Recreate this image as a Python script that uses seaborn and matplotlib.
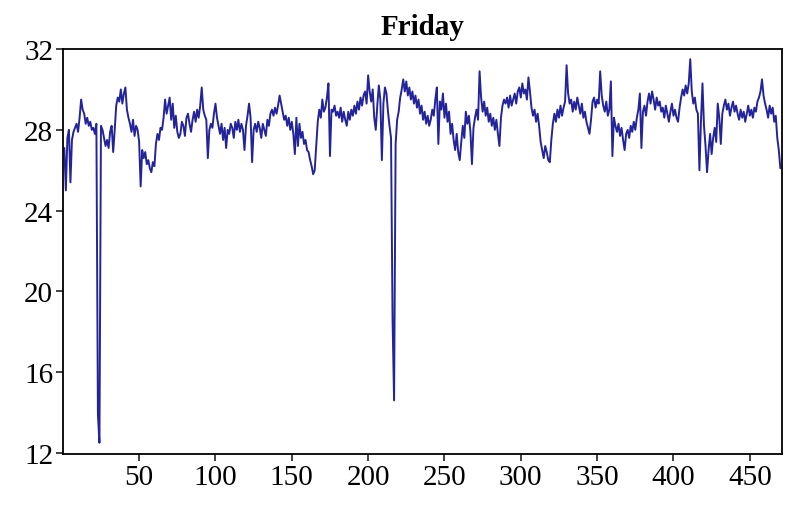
import numpy as np
import pandas as pd
import matplotlib
matplotlib.use("Agg")
import matplotlib.pyplot as plt
import seaborn as sns

friday = [
    27.1, 25.0, 27.6, 28.0, 25.4, 27.5, 27.9, 28.1, 28.3, 27.9,
    28.6, 29.5, 29.0, 28.8, 28.3, 28.6, 28.2, 28.4, 28.0, 28.1,
    27.8, 28.3, 13.9, 12.5, 28.2, 28.0, 27.6, 27.2, 27.5, 27.1,
    27.9, 28.2, 26.9, 28.0, 29.2, 29.6, 29.4, 30.0, 29.3, 29.8,
    30.1, 29.0, 28.6, 28.3, 27.9, 28.5, 27.7, 28.2, 28.0, 27.4,
    25.2, 27.0, 26.6, 26.9, 26.3, 26.5, 26.1, 25.9, 26.4, 26.2,
    27.3, 27.8, 27.5, 28.1, 28.0, 28.6, 29.5, 28.8, 29.2, 29.6,
    28.5, 29.3, 28.1, 28.7, 27.9, 27.6, 27.8, 28.4, 28.2, 27.7,
    28.6, 28.8, 28.3, 27.9, 28.5, 28.9, 28.4, 29.0, 28.6, 29.2,
    30.1, 29.0, 28.7, 28.5, 26.6, 28.0, 28.3, 28.1, 28.8, 29.3,
    28.6, 28.2, 27.8, 28.3, 27.5, 28.1, 27.1, 28.0, 27.8, 28.3,
    28.1, 27.6, 28.4, 28.0, 28.5, 27.9, 28.3, 28.0, 27.0, 28.2,
    28.7, 29.3, 28.6, 26.4, 28.0, 28.3, 27.9, 28.4, 28.1, 27.6,
    28.3, 28.0, 27.7, 28.5, 28.2, 28.8, 29.0, 28.7, 29.1, 28.8,
    29.2, 29.7, 29.3, 28.9, 28.5, 28.7, 28.2, 28.6, 28.0, 28.4,
    27.8, 26.8, 28.6, 27.2, 28.3, 27.6, 27.9, 27.3, 27.5, 27.0,
    26.9, 26.5, 26.2, 25.8, 26.0, 27.2, 28.4, 29.0, 28.6, 29.5,
    28.9, 29.1, 29.6, 30.3, 26.7, 29.0, 28.9, 29.2, 28.7, 28.9,
    28.6, 29.1, 28.4, 28.9, 28.5, 28.2, 28.9, 28.5, 29.0, 28.7,
    29.2, 28.8, 29.4, 29.0, 29.6, 29.2, 29.7, 29.9, 29.3, 30.7,
    29.9, 29.4, 30.0, 28.6, 28.0, 29.2, 30.2, 29.5, 26.5, 29.3,
    30.1, 29.8, 28.9, 28.2, 27.6, 18.6, 14.6, 27.3, 28.5, 28.9,
    29.6, 30.0, 30.5, 29.9, 30.4, 29.7, 30.1, 29.5, 29.9, 29.3,
    29.7, 29.1, 29.5, 28.8, 29.2, 28.5, 28.9, 28.3, 28.7, 28.2,
    28.5, 29.0, 28.7, 29.5, 30.1, 27.3, 29.4, 29.0, 29.8, 28.6,
    29.3, 28.4, 28.9, 27.8, 28.3, 27.5, 27.0, 27.8, 26.9, 26.5,
    27.4, 28.2, 27.6, 28.9, 28.3, 28.7, 27.9, 26.3, 28.1, 28.6,
    29.0, 28.5, 30.9, 29.6, 28.9, 29.4, 28.7, 29.1, 28.4, 28.8,
    28.2, 28.6, 28.0, 28.5, 27.8, 27.2, 28.6, 29.2, 29.5, 29.3,
    29.6, 29.1, 29.7, 29.2, 29.5, 29.8, 29.3, 29.9, 30.1, 29.6,
    30.3, 29.8, 30.0, 29.5, 30.6, 29.9, 29.1, 28.7, 29.0, 28.4,
    28.8, 28.2, 27.4, 27.0, 26.6, 27.2, 26.9, 26.5, 26.4, 27.5,
    28.3, 28.8, 28.4, 29.0, 28.6, 29.2, 28.7, 29.1, 29.4, 31.2,
    29.8, 29.3, 29.5, 28.9, 29.4, 29.0, 29.6, 29.2, 28.8, 29.3,
    28.6, 28.9, 28.4, 28.1, 27.8, 28.5, 29.4, 29.6, 29.1, 29.5,
    29.3, 30.9, 29.7, 29.2, 28.9, 29.4, 28.7, 29.0, 30.4, 26.7,
    28.6, 28.2, 27.9, 28.3, 27.7, 28.1, 27.5, 27.0, 27.8, 28.0,
    27.6, 28.2, 27.9, 28.4, 28.0, 28.6, 29.0, 29.8, 27.1, 28.9,
    29.2, 28.7, 29.4, 29.8, 29.3, 29.9, 29.5, 29.0, 29.6, 29.2,
    29.4, 28.9, 29.1, 28.6, 29.2, 28.8, 28.4, 28.9, 29.3, 28.7,
    29.0, 28.6, 28.4, 29.1, 29.6, 30.0, 29.7, 30.2, 29.8, 30.3,
    31.5, 29.9, 29.3, 29.6, 29.0, 28.8, 26.0, 28.4, 30.3, 28.2,
    27.2, 25.9, 27.0, 27.8, 26.8, 27.6, 28.1, 27.4, 29.3, 28.6,
    27.3, 28.8, 29.2, 29.5, 29.0, 29.3, 28.7, 29.1, 29.4, 28.9,
    29.2, 28.8, 28.5, 29.0, 28.6, 28.9, 28.4, 28.8, 29.2, 28.7,
    29.0, 28.6, 29.1, 28.9, 29.4, 29.6, 29.9, 30.5, 29.7, 29.3,
    29.0, 28.6, 29.2, 28.8, 29.1, 28.4, 28.7, 27.6, 27.0, 26.1,
]
obs = np.arange(1, len(friday) + 1)

x_ticks = [50, 100, 150, 200, 250, 300, 350, 400, 450]
y_ticks = [12, 16, 20, 24, 28, 32]

df = pd.DataFrame({"obs": obs, "value": friday})

sns.set_style("ticks")
plt.rcParams['font.family'] = ['Liberation Serif', 'DejaVu Serif']

fig = plt.figure(figsize=(7.85, 5.06), dpi=100)
ax = fig.add_axes([0.080, 0.101, 0.916, 0.800])

sns.lineplot(data=df, x="obs", y="value", ax=ax, color="#24249a", linewidth=1.4)

ax.set_xlim(0, 471)
ax.set_ylim(11.95, 32.0)
ax.set_xticks(x_ticks)
ax.set_yticks(y_ticks)
ax.set_xlabel("")
ax.set_ylabel("")
ax.set_title("Friday", fontsize=21, fontweight="bold", color="black", pad=11)

ax.tick_params(axis="both", direction="out", length=5, width=1.3,
               colors="#333333", labelcolor="black", labelsize=21, pad=2)
for side in ["left", "right", "top", "bottom"]:
    ax.spines[side].set_color("black")
    ax.spines[side].set_linewidth(1.3)

plt.savefig("out.png", dpi=100)
